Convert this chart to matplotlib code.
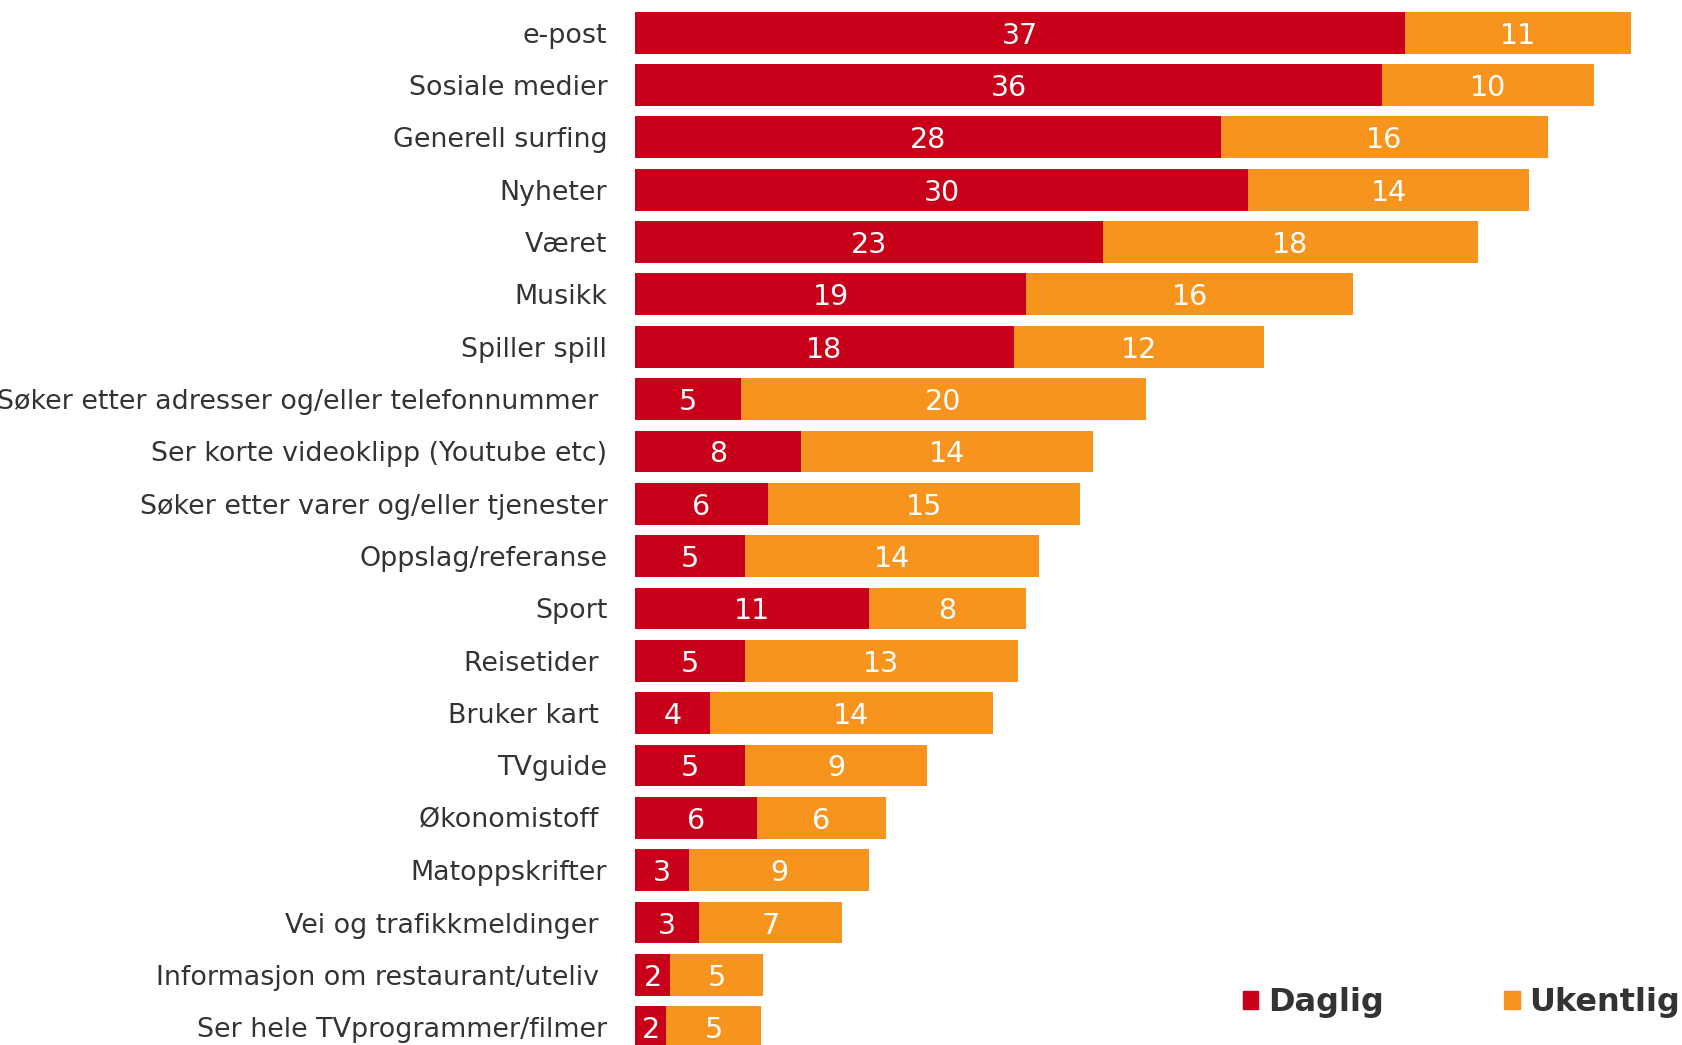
import matplotlib
matplotlib.use("Agg")
import matplotlib.pyplot as plt
from matplotlib.patches import Patch

categories = ["e-post", "Sosiale medier", "Generell surfing", "Nyheter", "Været", "Musikk",
              "Spiller spill", "Søker etter adresser og/eller telefonnummer ",
              "Ser korte videoklipp (Youtube etc)", "Søker etter varer og/eller tjenester",
              "Oppslag/referanse", "Sport", "Reisetider ", "Bruker kart ", "TVguide",
              "Økonomistoff ", "Matoppskrifter", "Vei og trafikkmeldinger ",
              "Informasjon om restaurant/uteliv ", "Ser hele TVprogrammer/filmer"]
daglig = [37.2, 36.1, 28.3, 29.6, 22.6, 18.9, 18.3, 5.1, 8.0, 6.4, 5.3, 11.3, 5.3, 3.6, 5.3, 5.9, 2.6, 3.1, 1.7, 1.5]
ukentlig = [10.9, 10.2, 15.8, 13.6, 18.1, 15.8, 12.1, 19.6, 14.1, 15.1, 14.2, 7.6, 13.2, 13.7, 8.8, 6.2, 8.7, 6.9, 4.5, 4.6]
daglig_labels = ["37", "36", "28", "30", "23", "19", "18", "5", "8", "6", "5", "11", "5", "4", "5", "6", "3", "3", "2", "2"]
ukentlig_labels = ["11", "10", "16", "14", "18", "16", "12", "20", "14", "15", "14", "8", "13", "14", "9", "6", "9", "7", "5", "5"]
series_names = ["Daglig", "Ukentlig"]

RED = "#C8001A"
ORANGE = "#F7941E"
TXT = "#333333"

fig = plt.figure(figsize=(16.82, 10.45), dpi=100)
ax = fig.add_axes([592 / 1568, 0, 1 - 592 / 1568, 1])

y = list(range(len(categories)))
h = 0.8
ax.barh(y, daglig, height=h, color=RED, edgecolor="none")
ax.barh(y, ukentlig, left=daglig, height=h, color=ORANGE, edgecolor="none")

fs = 19.4
nfs = 20.5
for i in y:
    ax.text(daglig[i] / 2, i, daglig_labels[i], ha="center", va="center_baseline",
            color="white", fontsize=nfs)
    ax.text(daglig[i] + ukentlig[i] / 2, i, ukentlig_labels[i], ha="center",
            va="center_baseline", color="white", fontsize=nfs)

ax.set_xlim(0, (1568 - 592) / 19.3)
ax.set_ylim(19.34, -0.625)
ax.set_yticks(y)
ax.set_yticklabels(categories, fontsize=fs, color=TXT)
ax.tick_params(axis="y", length=0, pad=20)
ax.set_xticks([])
for s in ax.spines.values():
    s.set_visible(False)

handles = [Patch(color=RED), Patch(color=ORANGE)]
leg = fig.legend(handles, series_names, loc="lower right", bbox_to_anchor=(1.016, -0.002),
                 ncol=2, frameon=False, handlelength=0.5, handleheight=0.5,
                 handletextpad=0.3, columnspacing=3.75,
                 prop={"weight": "bold", "size": 23})
for t in leg.get_texts():
    t.set_color(TXT)

fig.savefig("out.png", dpi=100)
